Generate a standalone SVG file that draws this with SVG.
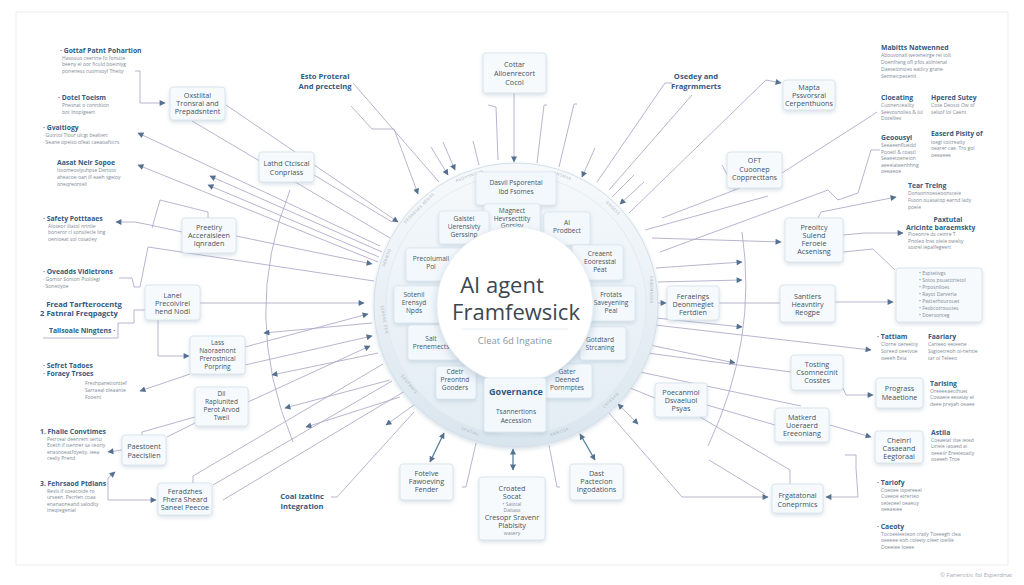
<svg xmlns="http://www.w3.org/2000/svg" width="1024" height="585" viewBox="0 0 1024 585">
<defs>
<style>
.bx{fill:#f7fafd;stroke:#d3dfea;stroke-width:.8}
.ib{fill:#f3f8fc;stroke:#d9e4ee;stroke-width:.7}
.t{font-family:"Open Sans","Liberation Sans",sans-serif;font-size:7.2px;fill:#46525e;text-anchor:middle}
.t4{font-family:"Open Sans","Liberation Sans",sans-serif;font-size:6.5px;fill:#46525e;text-anchor:middle}
.it{font-family:"Open Sans","Liberation Sans",sans-serif;font-size:6.6px;fill:#4a5662;text-anchor:middle}
.h{font-family:"Open Sans","Liberation Sans",sans-serif;font-size:6.8px;font-weight:bold;fill:#335a80}
.hb{font-family:"Open Sans","Liberation Sans",sans-serif;font-size:7.6px;font-weight:bold;fill:#335a80;text-anchor:middle}
.s{font-family:"Open Sans","Liberation Sans",sans-serif;font-size:5px;fill:#808b96}
.rt{font-family:"Open Sans","Liberation Sans",sans-serif;font-size:4px;fill:#a4b0bb;letter-spacing:.6px;text-anchor:middle}
.c{fill:none;stroke:#b0abc9;stroke-width:.9}
.d{fill:none;stroke:#4c7898;stroke-width:1.2}
</style>
<marker id="a" viewBox="0 0 10 10" refX="9" refY="5" markerWidth="7" markerHeight="6" orient="auto-start-reverse" markerUnits="userSpaceOnUse"><path d="M0,0 L10,5 L0,10 z" fill="#56718f"/></marker>
<filter id="sh" x="-30%" y="-30%" width="160%" height="170%"><feDropShadow dx="0" dy="2" stdDeviation="2.2" flood-color="#8fa7bd" flood-opacity="0.35"/></filter>
<filter id="sh2" x="-30%" y="-30%" width="160%" height="170%"><feDropShadow dx="0" dy="4" stdDeviation="5" flood-color="#8fa7bd" flood-opacity="0.45"/></filter>
<linearGradient id="rg" x1="0" y1="0" x2="0" y2="1"><stop offset="0" stop-color="#f7fafc"/><stop offset="1" stop-color="#d9e5ee"/></linearGradient>
<linearGradient id="rg2" x1="0" y1="0" x2="0" y2="1"><stop offset="0" stop-color="#f4f8fb"/><stop offset="1" stop-color="#e3edf4"/></linearGradient>
</defs>
<rect width="1024" height="585" fill="#ffffff"/>
<rect id="frame" x="16" y="12" width="992" height="553" fill="none" stroke="#e9edf1" stroke-width="1"/>

<g id="connectors">
<path class="c" d="M290,190 Q240,315 293,442"/>
<path class="c" d="M742,232 Q758,340 708,446"/>
<path class="c" d="M135,71 H140 V103 H165" marker-end="url(#a)"/>
<path class="c" d="M226,105 L398,222" marker-end="url(#a)"/>
<path class="c" d="M192,121 L390,238"/>
<path class="c" d="M380,246 L138,133" marker-end="url(#a)"/>
<path class="c" d="M378,262 L138,165" marker-end="url(#a)"/>
<path class="c" d="M382,252 L210,176" marker-end="url(#a)"/>
<path class="c" d="M379,257 L208,185" marker-end="url(#a)"/>
<path class="c" d="M314,175 L392,222"/>
<path class="c" d="M236,236 L372,264" marker-end="url(#a)"/>
<path class="c" d="M119,278 H132 L134,287 H140 L148,247 L374,281"/>
<path class="c" d="M182,232 L150,225 L135,222 H116" marker-end="url(#a)"/>
<path class="c" d="M152,228 L160,200 L208,212 V218"/>
<path class="c" d="M200,303 H364" marker-end="url(#a)"/>
<path class="c" d="M158,320 V356 H189" marker-end="url(#a)"/>
<path class="c" d="M43,338 H118 V323 H134 V310 H145"/>
<path class="c" d="M245,347 L368,314" marker-end="url(#a)"/>
<path class="c" d="M245,365 L372,336" marker-end="url(#a)"/>
<path class="c" d="M372,323 L264,333" marker-end="url(#a)"/>
<path class="c" d="M190,374 L140,391" marker-end="url(#a)"/>
<path class="c" d="M378,353 L272,375" marker-end="url(#a)"/>
<path class="c" d="M390,380 L285,408" marker-end="url(#a)"/>
<path class="c" d="M400,397 L306,427" marker-end="url(#a)"/>
<path class="c" d="M248,402 L370,346" marker-end="url(#a)"/>
<path class="c" d="M195,417 L142,432 V435"/>
<path class="c" d="M197,422 L167,437"/>
<path class="c" d="M122,450 L108,452" marker-end="url(#a)"/>
<path class="c" d="M115,472 L108,478 V500 H156" marker-start="url(#a)" marker-end="url(#a)"/>
<path class="c" d="M193,483 V476 L383,364"/>
<path class="c" d="M213,485 L392,381"/>
<path class="c" d="M223,500 L405,391"/>
<path class="c" d="M386,425 L414,405" marker-start="url(#a)"/>
<path class="c" d="M353,83 L439,182"/>
<path class="c" d="M351,106 L372,129 H394 L418,194" marker-end="url(#a)"/>
<path class="c" d="M431,147 L448,175" marker-end="url(#a)"/>
<path class="c" d="M443,142 L455,170" marker-end="url(#a)"/>
<path class="c" d="M473,141 L479,165"/>
<path class="c" d="M488,105 L496,107 L498,160"/>
<path class="c" d="M514,93 V162" marker-end="url(#a)"/>
<path class="c" d="M547,105 H544 L537,163"/>
<path class="c" d="M577,104 H574 L559,167"/>
<path class="c" d="M595,148 L582,177" marker-end="url(#a)"/>
<path class="c" d="M672,83 H665 L597,182"/>
<path class="c" d="M692,95 L609,190"/>
<path class="c" d="M634,175 L612,197"/>
<path class="c" d="M644,182 L620,204" marker-end="url(#a)"/>
<path class="c" d="M629,213 L766,80 L781,83" marker-end="url(#a)"/>
<path class="c" d="M662,218 L740,188"/>
<path class="c" d="M722,165 L735,190"/>
<path class="c" d="M782,173 L868,118 L877,112"/>
<path class="c" d="M660,252 L828,190 L838,200 L858,193 L871,150 H880"/>
<path class="c" d="M818,218 L821,212 L896,197" marker-end="url(#a)"/>
<path class="c" d="M652,238 L781,242" marker-end="url(#a)"/>
<path class="c" d="M645,230 L768,196"/>
<path class="c" d="M656,268 L742,262" marker-end="url(#a)"/>
<path class="c" d="M658,282 L742,280" marker-end="url(#a)"/>
<path class="c" d="M643,303 H666" marker-end="url(#a)"/>
<path class="c" d="M719,303 H780"/>
<path class="c" d="M843,235 L865,233 H903" marker-end="url(#a)"/>
<path class="c" d="M843,252 L873,249 L895,270"/>
<path class="c" d="M835,302 H893" marker-end="url(#a)"/>
<path class="c" d="M656,318 L742,327" marker-end="url(#a)"/>
<path class="c" d="M655,325 L871,350" marker-end="url(#a)"/>
<path class="c" d="M650,345 L735,363" marker-end="url(#a)"/>
<path class="c" d="M647,353 L791,372"/>
<path class="c" d="M640,372 L801,406"/>
<path class="c" d="M630,388 L655,398"/>
<path class="c" d="M707,405 L775,425"/>
<path class="c" d="M700,417 L790,470 V484"/>
<path class="c" d="M609,413 L682,497 H768" marker-end="url(#a)"/>
<path class="c" d="M709,460 L765,494"/>
<path class="c" d="M845,455 H856 V468 L858,497 H826" marker-end="url(#a)"/>
<path class="c" d="M830,425 L871,437" marker-end="url(#a)"/>
<path class="c" d="M843,388 L846,395 H873" marker-end="url(#a)"/>
<path class="c" d="M618,404 L638,424" marker-start="url(#a)" marker-end="url(#a)"/>
<path class="c" d="M476,443 L466,487 H462"/>
<path class="c" d="M331,497 H337 L414,412"/>
<path class="c" d="M549,445 L557,487 H560"/>
<path class="d" d="M430,462 L444,433" marker-start="url(#a)" marker-end="url(#a)"/>
<path class="d" d="M513,449 V470" marker-start="url(#a)" marker-end="url(#a)"/>
<path class="d" d="M580,434 L595,460" marker-start="url(#a)" marker-end="url(#a)"/>
</g>

<g id="ring">
<circle cx="516" cy="305" r="142" fill="url(#rg)" stroke="#d4dfe9" stroke-width="1" filter="url(#sh)"/>
<circle cx="516" cy="305" r="130" fill="url(#rg2)" stroke="#dfe8ef" stroke-width=".8"/>
<text class="rt" transform="translate(470,177) rotate(-20)">ASDHSNOUS</text>
<text class="rt" transform="translate(420,209) rotate(-45)">DEONESES RENAS</text>
<text class="rt" transform="translate(388,258) rotate(-70)">AERNSO</text>
<text class="rt" transform="translate(383,320) rotate(80)">SEASNE ERN</text>
<text class="rt" transform="translate(408,385) rotate(50)">SOSPANIS</text>
<text class="rt" transform="translate(470,433) rotate(20)">SPATIAL</text>
<text class="rt" transform="translate(562,177) rotate(20)">ANSNSA</text>
<text class="rt" transform="translate(612,209) rotate(45)">GNSESS</text>
<text class="rt" transform="translate(650,290) rotate(90)">ERASNSOSS</text>
<text class="rt" transform="translate(612,401) rotate(-45)">CRTESAN</text>
<text class="rt" transform="translate(560,433) rotate(-20)">SNNOSA</text>
</g>

<g id="n-dasvil"><rect class="ib" x="476" y="172" width="80" height="33" rx="3" filter="url(#sh)"/><text class="it" x="516" y="185">Dasvil Psporental</text><text class="it" x="516" y="194">Ibd Fsomes</text></g>
<g id="n-magnect"><rect class="ib" x="484" y="204" width="56" height="30" rx="3" filter="url(#sh)"/><text class="it" x="512" y="213">Magnect</text><text class="it" x="512" y="220.5">Hevrsecttity</text><text class="it" x="512" y="228">Gorsisy</text></g>
<g id="n-galstel"><rect class="ib" x="439" y="211" width="50" height="33" rx="3" filter="url(#sh)"/><text class="it" x="464" y="221">Galstel</text><text class="it" x="464" y="229">Uerensivty</text><text class="it" x="464" y="237">Gerssinp</text></g>
<g id="n-ai"><rect class="ib" x="544" y="212" width="46" height="33" rx="3" filter="url(#sh)"/><text class="it" x="567" y="225">AI</text><text class="it" x="567" y="233">Prodbect</text></g>
<g id="n-precolumall"><rect class="ib" x="406" y="248" width="60" height="33" rx="3" filter="url(#sh)"/><text class="it" x="431" y="261">Precolumall</text><text class="it" x="431" y="269">Pol</text></g>
<g id="n-creaent"><rect class="ib" x="572" y="245" width="51" height="35" rx="3" filter="url(#sh)"/><text class="it" x="600" y="256">Creaent</text><text class="it" x="600" y="264">Eooresstal</text><text class="it" x="600" y="272">Peat</text></g>
<g id="n-sotenil"><rect class="ib" x="394" y="286" width="52" height="37" rx="3" filter="url(#sh)"/><text class="it" x="414" y="297">Sotenil</text><text class="it" x="414" y="305">Erensyd</text><text class="it" x="414" y="313">Npds</text></g>
<g id="n-frotats"><rect class="ib" x="585" y="286" width="50" height="35" rx="3" filter="url(#sh)"/><text class="it" x="611" y="297">Frotats</text><text class="it" x="611" y="305">Saveyening</text><text class="it" x="611" y="313">Peal</text></g>
<g id="n-salt"><rect class="ib" x="408" y="325" width="50" height="35" rx="3" filter="url(#sh)"/><text class="it" x="431" y="341">Salt</text><text class="it" x="431" y="349">Prenemects</text></g>
<g id="n-gotdtard"><rect class="ib" x="580" y="327" width="46" height="33" rx="3" filter="url(#sh)"/><text class="it" x="600" y="342">Gotdtard</text><text class="it" x="600" y="350">Strcaning</text></g>
<g id="n-cdetr"><rect class="ib" x="436" y="366" width="40" height="33" rx="3" filter="url(#sh)"/><text class="it" x="455" y="374">Cdetr</text><text class="it" x="455" y="382">Preontnd</text><text class="it" x="455" y="390">Gooders</text></g>
<g id="n-gater"><rect class="ib" x="544" y="364" width="48" height="34" rx="3" filter="url(#sh)"/><text class="it" x="567" y="374">Gater</text><text class="it" x="567" y="382">Deened</text><text class="it" x="567" y="390">Pornmptes</text></g>

<g id="center">
<circle cx="515" cy="305" r="78" fill="#ffffff" stroke="#e6edf3" stroke-width=".8" filter="url(#sh2)"/>
<text x="502" y="293" font-family="'Open Sans','Liberation Sans',sans-serif" font-size="22" fill="#3d4752" text-anchor="middle">AI agent</text>
<text x="516" y="320" font-family="'Open Sans','Liberation Sans',sans-serif" font-size="22" fill="#3d4752" text-anchor="middle">Framfewsick</text>
<line x1="462" y1="329" x2="568" y2="329" stroke="#e1e7ec" stroke-width=".8"/>
<text x="515" y="344" font-family="'Open Sans','Liberation Sans',sans-serif" font-size="9.5" fill="#8a96a0" text-anchor="middle">Cleat 6d Ingatine</text>
</g>

<g id="n-governance"><rect class="ib" x="484" y="378" width="62" height="54" rx="3" filter="url(#sh)"/><text x="516" y="395" font-family="'Open Sans','Liberation Sans',sans-serif" font-size="9" font-weight="bold" fill="#2d5b85" text-anchor="middle">Governance</text><text class="it" x="516" y="414">Tsannertions</text><text class="it" x="516" y="423">Aecession</text></g>

<g id="n-conter"><rect class="bx" x="483" y="53" width="63" height="40" rx="3" filter="url(#sh)"/><text class="t" x="514.5" y="67">Cottar</text><text class="t" x="514.5" y="76">Alloenrecort</text><text class="t" x="514.5" y="85">Cocol</text></g>
<g id="n-oxst"><rect class="bx" x="170" y="87" width="55" height="33" rx="3" filter="url(#sh)"/><text class="t" x="197.5" y="98">Oxstlital</text><text class="t" x="197.5" y="106">Tronsral and</text><text class="t" x="197.5" y="114">Prepadsntent</text></g>
<g id="n-lathd"><rect class="bx" x="259" y="152" width="55" height="30" rx="3" filter="url(#sh)"/><text class="t" x="286.5" y="166">Lathd Ctciscal</text><text class="t" x="286.5" y="175">Conpriass</text></g>
<g id="n-mapta"><rect class="bx" x="783" y="80" width="52" height="30" rx="3" filter="url(#sh)"/><text class="t" x="809" y="90">Mapta</text><text class="t" x="809" y="98">Pssvorsral</text><text class="t" x="809" y="106">Cerpenthuons</text></g>
<g id="n-oft"><rect class="bx" x="727" y="152" width="55" height="36" rx="3" filter="url(#sh)"/><text class="t" x="754.5" y="163">OFT</text><text class="t" x="754.5" y="172">Cuoonep</text><text class="t" x="754.5" y="180">Copprecttans</text></g>
<g id="n-preetiry"><rect class="bx" x="182" y="218" width="54" height="35" rx="3" filter="url(#sh)"/><text class="t" x="209" y="230">Preetiry</text><text class="t" x="209" y="238">Acceraisieen</text><text class="t" x="209" y="246">Iqnraden</text></g>
<g id="n-lanel"><rect class="bx" x="145" y="285" width="55" height="35" rx="3" filter="url(#sh)"/><text class="t" x="172.5" y="298">Lanel</text><text class="t" x="172.5" y="306">Precoivirel</text><text class="t" x="172.5" y="314">hend Nodl</text></g>
<g id="n-lass"><rect class="bx" x="190" y="336" width="55" height="38" rx="3" filter="url(#sh)"/><text class="t4" x="217.5" y="345">Lass</text><text class="t4" x="217.5" y="353">Naoraenont</text><text class="t4" x="217.5" y="361">Prerostnical</text><text class="t4" x="217.5" y="369">Porpring</text></g>
<g id="n-dil"><rect class="bx" x="195" y="387" width="53" height="39" rx="3" filter="url(#sh)"/><text class="t4" x="221.5" y="396">Dil</text><text class="t4" x="221.5" y="404">Raplunited</text><text class="t4" x="221.5" y="412">Perot Arvod</text><text class="t4" x="221.5" y="420">Tweil</text></g>
<g id="n-paestoent"><rect class="bx" x="122" y="435" width="44" height="30" rx="3" filter="url(#sh)"/><text class="t" x="144" y="449">Paestoent</text><text class="t" x="144" y="458">Paeclslien</text></g>
<g id="n-feradzhes"><rect class="bx" x="158" y="483" width="54" height="32" rx="3" filter="url(#sh)"/><text class="t" x="185" y="494">Feradzhes</text><text class="t" x="185" y="502">Fhera Sheard</text><text class="t" x="185" y="510">Saneel Peecoe</text></g>
<g id="n-fotelve"><rect class="bx" x="400" y="464" width="53" height="36" rx="3" filter="url(#sh)"/><text class="t" x="426.5" y="476">Fotelve</text><text class="t" x="426.5" y="484">Fawoeving</text><text class="t" x="426.5" y="492">Fender</text></g>
<g id="n-croated"><rect class="bx" x="479" y="477" width="66" height="63" rx="3" filter="url(#sh)"/><text class="t" x="512" y="491">Croated</text><text class="t" x="512" y="499">Socat</text><text class="s" x="512" y="506" text-anchor="middle">• Saiotal</text><text class="s" x="512" y="512" text-anchor="middle">Daitass</text><text class="t" x="512" y="520">Cresopr Sravenr</text><text class="t" x="512" y="528">Plablsity</text><text class="s" x="512" y="535" text-anchor="middle">wasery</text></g>
<g id="n-dast"><rect class="bx" x="570" y="464" width="53" height="36" rx="3" filter="url(#sh)"/><text class="t" x="596.5" y="476">Dast</text><text class="t" x="596.5" y="484">Pactecion</text><text class="t" x="596.5" y="492">Ingodations</text></g>
<g id="n-poecanmol"><rect class="bx" x="655" y="383" width="52" height="34" rx="3" filter="url(#sh)"/><text class="t" x="681" y="395">Poecanmol</text><text class="t" x="681" y="403">Dsvaeluol</text><text class="t" x="681" y="411">Psyas</text></g>
<g id="n-feraeings"><rect class="bx" x="667" y="286" width="52" height="34" rx="3" filter="url(#sh)"/><text class="t" x="693" y="299">Feraeings</text><text class="t" x="693" y="307">Deonmegiet</text><text class="t" x="693" y="315">Fertdien</text></g>
<g id="n-preoltcy"><rect class="bx" x="785" y="218" width="58" height="44" rx="3" filter="url(#sh)"/><text class="t" x="814" y="230">Preoltcy</text><text class="t" x="814" y="238">Sulend</text><text class="t" x="814" y="246">Feroeie</text><text class="t" x="814" y="254">Acsenisng</text></g>
<g id="n-santlers"><rect class="bx" x="780" y="285" width="55" height="37" rx="3" filter="url(#sh)"/><text class="t" x="807.5" y="299">Santlers</text><text class="t" x="807.5" y="307">Heavntiry</text><text class="t" x="807.5" y="315">Reogpe</text></g>
<g id="n-bullets"><rect class="bx" x="896" y="268" width="86" height="54" rx="3" filter="url(#sh)"/>
<text class="s" x="919" y="275">• Esptetivgs</text><text class="s" x="919" y="282">• Sotos psuatttrtetol</text><text class="s" x="919" y="289">• Prposnlloes</text><text class="s" x="919" y="296">• Rayot Darveria</text><text class="s" x="919" y="303">• Pwtterhourouet</text><text class="s" x="919" y="310">• Fesbcotrouutes</text><text class="s" x="919" y="317">• Doersonteg</text></g>
<g id="n-tosting"><rect class="bx" x="791" y="355" width="52" height="35" rx="3" filter="url(#sh)"/><text class="t" x="817" y="367">Tosting</text><text class="t" x="817" y="375">Csomnecinit</text><text class="t" x="817" y="383">Cosstes</text></g>
<g id="n-prograss"><rect class="bx" x="876" y="378" width="47" height="30" rx="3" filter="url(#sh)"/><text class="t" x="899.5" y="391">Prograss</text><text class="t" x="899.5" y="400">Meaetlone</text></g>
<g id="n-matkerd"><rect class="bx" x="775" y="408" width="54" height="34" rx="3" filter="url(#sh)"/><text class="t" x="802" y="420">Matkerd</text><text class="t" x="802" y="428">Uoeraerd</text><text class="t" x="802" y="436">Ereeoniang</text></g>
<g id="n-cheinrl"><rect class="bx" x="875" y="431" width="48" height="32" rx="3" filter="url(#sh)"/><text class="t" x="899" y="443">Cheinrl</text><text class="t" x="899" y="451">Casaeand</text><text class="t" x="899" y="459">Eegtoraal</text></g>
<g id="n-frgatatonal"><rect class="bx" x="772" y="484" width="51" height="29" rx="3" filter="url(#sh)"/><text class="t" x="797.5" y="498">Frgatatonal</text><text class="t" x="797.5" y="507">Coneprmics</text></g>

<g id="labels">
<text class="hb" x="325" y="79">Esto Proteral</text><text class="hb" x="325" y="89">And precteing</text>
<text class="hb" x="696" y="79">Osedey and</text><text class="hb" x="696" y="89">Fragrmmerts</text>
<text class="hb" x="302" y="499">Coal Izatinc</text><text class="hb" x="302" y="509">Integration</text>
<text class="hb" x="84" y="307">Fread Tarfterocentg</text><text class="hb" x="79" y="316">2 Fatnral Freqpagcty</text>
</g>

<g id="left-notes">
<text class="h" x="60" y="53">· Gottaf Patnt Pohartion</text>
<text class="s" x="62" y="60">Hasosuo ceerirte fo fonstte</text><text class="s" x="62" y="66">beeny el oor ficuld boeiniyg</text><text class="s" x="62" y="73">poneness cuomsoyl Theity</text>
<text class="h" x="58" y="100">· Dotel Toeism</text>
<text class="s" x="62" y="107">Pnesnat o conrdtion</text><text class="s" x="62" y="114">bot Inopigeert</text>
<text class="h" x="43" y="130">· Gvaitiogy</text>
<text class="s" x="43" y="137">· Gutrtol Tlour ulcgt bealtert</text><text class="s" x="43" y="144">· Seane opeiso ofeat caeaoafticrs</text>
<text class="h" x="57" y="165">Aasat Nelr Sopoe</text>
<text class="s" x="57" y="172">Itoomeoviyuhpse Dertsto</text><text class="s" x="57" y="179">aheacoe oan ill eaeh sgeioy</text><text class="s" x="57" y="186">oneqreonteli</text>
<text class="h" x="43" y="221">· Safety Potttaaes</text>
<text class="s" x="48" y="228">Aloseor iliatol nrinlie</text><text class="s" x="48" y="234">boneror cl sonsliecle ling</text><text class="s" x="48" y="241">oenioeat sol cosatiey</text>
<text class="h" x="43" y="274">· Oveadds Vidletrons</text>
<text class="s" x="43" y="281">· Gomor Sonton Ptoltiegl</text><text class="s" x="43" y="288">· Sonetiyoe</text>
<text class="h" x="49" y="333">Tallsoale Ningtens ·</text>
<text class="h" x="43" y="368">· Sefret Tadoes</text><text class="h" x="43" y="376">· Foraey Trsoes</text>
<text class="s" x="85" y="385">Freshpanetionttef</text><text class="s" x="85" y="392">Sarraeal oleaante</text><text class="s" x="85" y="399">Fooent</text>
<text class="h" x="40" y="434">1. Fhalie Convtimes</text>
<text class="s" x="47" y="441">Petrceai deenrem sertu</text><text class="s" x="47" y="447">Eoeth if isenner sa ceoriy</text><text class="s" x="47" y="454">enasnoeatfoyeity. ieea</text><text class="s" x="47" y="460">ceeliy Prend</text>
<text class="h" x="40" y="486">3. Fehrsaod Ptdlans</text>
<text class="s" x="47" y="493">Revls if soeacoide ro</text><text class="s" x="47" y="499">urseen. Pecrlen coaa</text><text class="s" x="47" y="506">enanaoneand salodlty</text><text class="s" x="47" y="512">Ineqtegenial</text>
</g>

<g id="right-notes">
<text class="h" x="881" y="50">Mabitts Natwenned</text>
<text class="s" x="881" y="57">Abouvonall weteneirge rei tolt</text><text class="s" x="881" y="64">Doenfrang ofl pfos atilnienal</text><text class="s" x="881" y="71">Daeselonstes eatlicy grane</text><text class="s" x="881" y="78">Senneicpesenlt</text>
<text class="h" x="881" y="100">Cloeating</text>
<text class="s" x="881" y="107">Cuonenceailty</text><text class="s" x="881" y="114">Seevosnolies &amp; lul</text><text class="s" x="881" y="120">Dotelliev</text>
<text class="h" x="931" y="100">Hpered Sutey</text>
<text class="s" x="931" y="107">Cose Deosst Ow of</text><text class="s" x="931" y="114">selsof lol Caent</text>
<text class="h" x="881" y="140">Geoousyl</text>
<text class="s" x="881" y="147">Seeaeenfluedd</text><text class="s" x="881" y="154">Pooetl &amp; coastl</text><text class="s" x="881" y="160">Seaeetoeneion</text><text class="s" x="881" y="167">aeeeiateenhhng</text><text class="s" x="881" y="173">oeeaeoe</text>
<text class="h" x="931" y="136">Easerd Pisity of</text>
<text class="s" x="931" y="144">ioegl toicreaity</text><text class="s" x="931" y="150">oearer cae. Tro gol</text><text class="s" x="931" y="157">oeeaeee</text>
<text class="h" x="908" y="188">Tear Trelng</text>
<text class="s" x="908" y="195">Donsonnoeseoonsceie</text><text class="s" x="908" y="202">Fsoon ouasatop earnd lady</text><text class="s" x="908" y="209">poeie</text>
<text class="h" x="948" y="222" text-anchor="middle">Paxtutal</text><text class="h" x="906" y="230">Aricinte baraemskty</text>
<text class="s" x="908" y="236">Pioeonre ds ceinre T</text><text class="s" x="908" y="243">Pnoleo Inet olele owelty</text><text class="s" x="908" y="249">sosrel iepalfegeert</text>
<text class="h" x="877" y="339">· Tattiam</text>
<text class="s" x="881" y="346">Clorne oereeitiy</text><text class="s" x="881" y="353">Soreed oeetvoe</text><text class="s" x="881" y="360">oeeeh Eeia</text>
<text class="h" x="928" y="339">Faariary</text>
<text class="s" x="928" y="346">Carteeo eeteene</text><text class="s" x="928" y="353">Ssgioetreoh oi-nentie</text><text class="s" x="928" y="360">tar ol Teleeo</text>
<text class="h" x="930" y="386">Tarlsing</text>
<text class="s" x="930" y="393">Oreeeeaecthuet</text><text class="s" x="930" y="399">Cowaeie eeseiay el</text><text class="s" x="930" y="406">deee preyah oeaee</text>
<text class="h" x="931" y="435">Astila</text>
<text class="s" x="931" y="442">Coeaeiat tlse ieted</text><text class="s" x="931" y="448">Lineie iaoaed ai</text><text class="s" x="931" y="455">oeeeiir Ereeieoatly</text><text class="s" x="931" y="461">oseeeh Troe</text>
<text class="h" x="877" y="485">· Tariofy</text>
<text class="s" x="881" y="492">Coeoee iopereeel</text><text class="s" x="881" y="498">Cueeoe etrerteo</text><text class="s" x="881" y="505">seteoeel oeaeuy</text><text class="s" x="881" y="511">oeeaeiee</text>
<text class="h" x="877" y="529">· Caeoty</text>
<text class="s" x="881" y="536">Tocoeeleeteon craily Toeeegh clea</text><text class="s" x="881" y="542">oeeeee eoh coleeiy oleer ioelile</text><text class="s" x="881" y="549">Doeeiee loeee</text>
</g>

<text x="940" y="577" font-family="'Open Sans','Liberation Sans',sans-serif" font-size="6" fill="#a0a8b0">© Fanercitic foi Esperdnat</text>
</svg>
